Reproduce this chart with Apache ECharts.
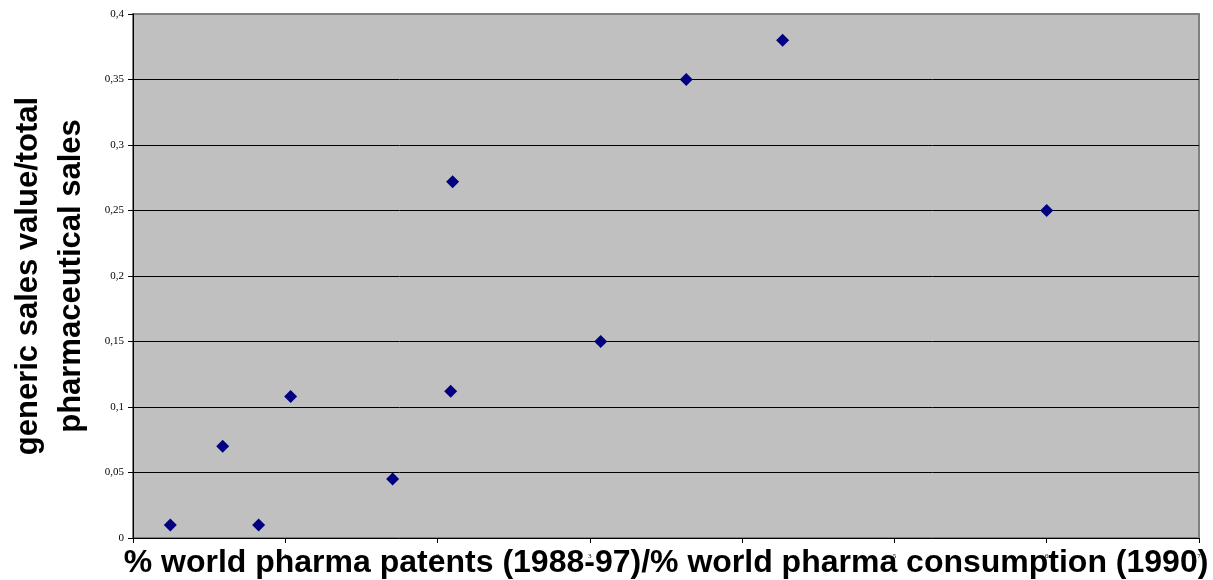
<!DOCTYPE html>
<html>
<head>
<meta charset="utf-8">
<script src="https://cdn.jsdelivr.net/npm/echarts@6/dist/echarts.min.js"></script>
<style>
  html, body { margin: 0; padding: 0; background: #ffffff; }
  #chart { width: 1213px; height: 580px; }
</style>
</head>
<body>
<div id="chart"></div>
<script>
// Patent share relative to consumption share, per country
const patentConsumptionRatio = [0.245, 0.589, 0.825, 1.035, 1.705, 2.099, 2.086, 3.071, 3.633, 4.266, 6.0];
// Generic sales as a share of total pharmaceutical sales
const genericShare = [0.01, 0.07, 0.01, 0.108, 0.045, 0.272, 0.112, 0.15, 0.35, 0.38, 0.25];

const xAxisTitle = '% world pharma patents (1988-97)/% world pharma consumption (1990)';
const yAxisTitle = 'generic sales value/total\npharmaceutical sales';

const points = patentConsumptionRatio.map((x, i) => [x, genericShare[i]]);

const commaDecimal = v => String(+v.toFixed(2)).replace('.', ',');

const chart = echarts.init(document.getElementById('chart'), null, { renderer: 'canvas' });
chart.setOption({
  animation: false,
  backgroundColor: '#ffffff',
  grid: {
    left: 133, right: 14, top: 14, bottom: 42,
    containLabel: false,
    outerBoundsMode: 'none',
    show: true,
    backgroundColor: '#c0c0c0',
    borderColor: '#808080',
    borderWidth: 2
  },
  xAxis: {
    type: 'value',
    min: 0, max: 7, interval: 1,
    axisLine: { show: true, onZero: false, lineStyle: { color: '#000000', width: 1 } },
    axisTick: { show: true, inside: false, length: 5, lineStyle: { color: '#000000' } },
    axisLabel: {
      show: true, margin: 15,
      fontFamily: 'Liberation Serif', fontSize: 7, color: '#000000'
    },
    splitLine: { show: false },
    name: xAxisTitle,
    nameLocation: 'middle',
    nameGap: 9,
    nameMoveOverlap: false,
    nameTextStyle: {
      fontFamily: 'Liberation Sans', fontWeight: 'bold', fontSize: 32, color: '#000000'
    }
  },
  yAxis: {
    type: 'value',
    min: 0, max: 0.4, interval: 0.05,
    axisLine: { show: true, onZero: false, lineStyle: { color: '#000000', width: 1 } },
    axisTick: { show: true, inside: false, length: 5, lineStyle: { color: '#000000' } },
    axisLabel: {
      show: true, margin: 9,
      fontFamily: 'Liberation Serif', fontSize: 11, color: '#000000',
      formatter: commaDecimal
    },
    splitLine: {
      show: true, showMinLine: false, showMaxLine: false,
      lineStyle: { color: '#000000', width: 1 }
    },
    name: yAxisTitle,
    nameLocation: 'middle',
    nameRotate: 90,
    nameGap: 40,
    nameMoveOverlap: false,
    nameTextStyle: {
      fontFamily: 'Liberation Sans', fontWeight: 'bold', fontSize: 31,
      lineHeight: 43, color: '#000000', align: 'center'
    }
  },
  series: [{
    type: 'scatter',
    data: points,
    symbol: 'diamond',
    symbolSize: 13,
    itemStyle: { color: '#000080', opacity: 1 }
  }]
});
</script>
</body>
</html>
